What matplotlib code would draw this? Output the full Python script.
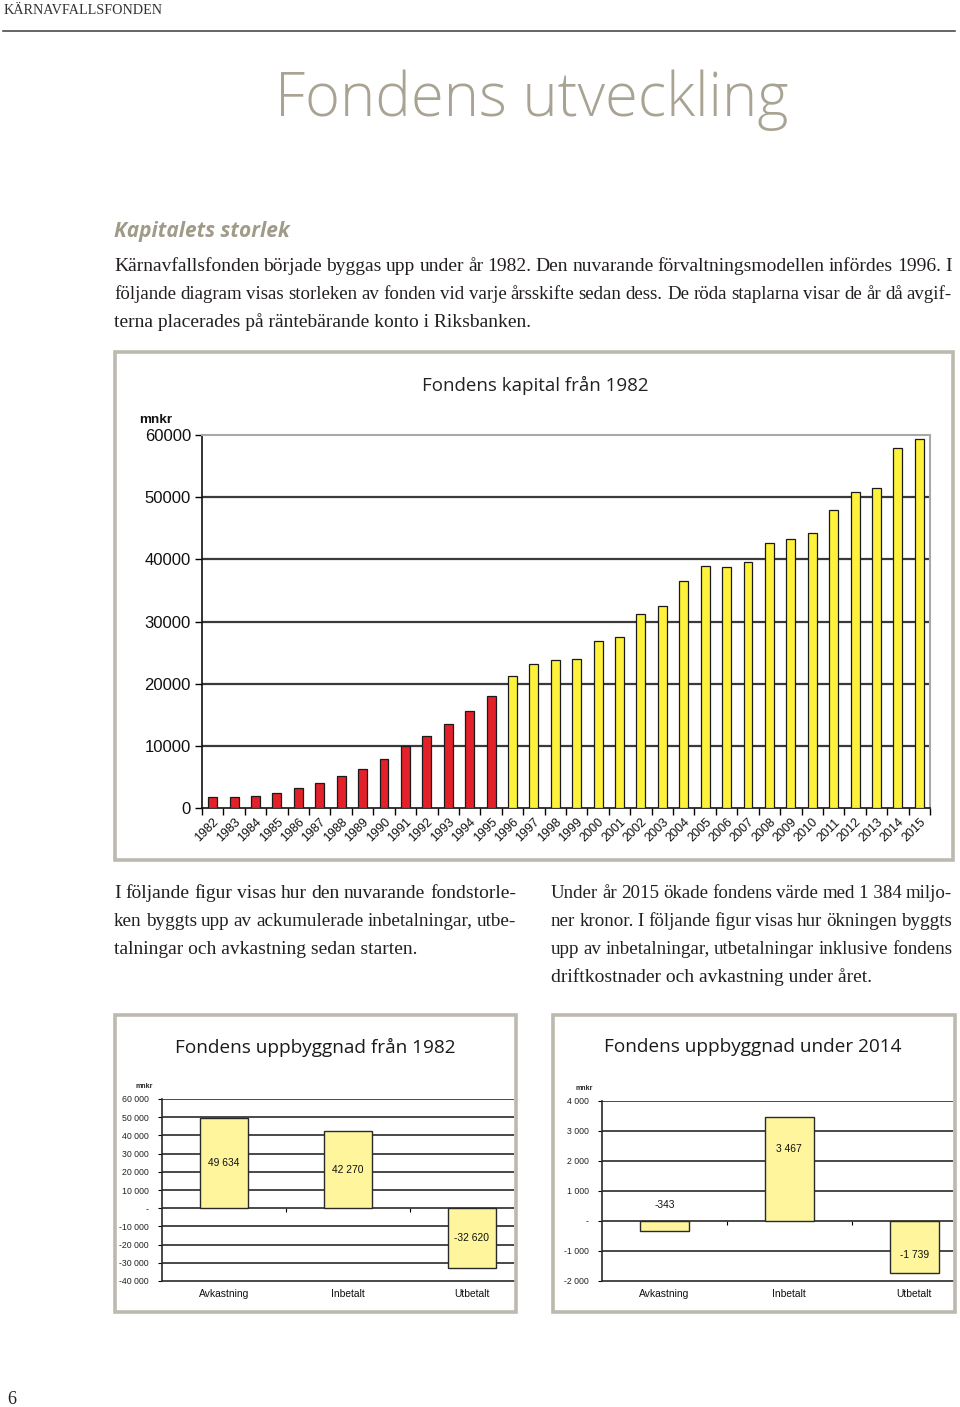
import matplotlib
matplotlib.use('Agg')
import matplotlib.pyplot as plt
from matplotlib.patches import Rectangle
from matplotlib.lines import Line2D

# --- data -------------------------------------------------------------
years = ['1982', '1983', '1984', '1985', '1986', '1987', '1988', '1989',
         '1990', '1991', '1992', '1993', '1994', '1995', '1996', '1997',
         '1998', '1999', '2000', '2001', '2002', '2003', '2004', '2005',
         '2006', '2007', '2008', '2009', '2010', '2011', '2012', '2013',
         '2014', '2015']
capital = [1800, 1800, 2000, 2400, 3250, 4100, 5150, 6300,
           7900, 9900, 11600, 13500, 15600, 18050, 21200, 23200,
           23800, 23950, 26800, 27500, 31250, 32550, 36550, 38950,
           38800, 39650, 42600, 43300, 44250, 48000, 50850, 51450,
           57900, 59400]
last_riksbank_year = 1995
capital_ticks = [0, 10000, 20000, 30000, 40000, 50000, 60000]

components = ['Avkastning', 'Inbetalt', 'Utbetalt']
since_1982 = [49634, 42270, -32620]
ticks_1982 = [60000, 50000, 40000, 30000, 20000, 10000, 0,
              -10000, -20000, -30000, -40000]
during_2014 = [-343, 3467, -1739]
ticks_2014 = [4000, 3000, 2000, 1000, 0, -1000, -2000]

W, H = 960, 1407
fig = plt.figure(figsize=(W / 100, H / 100), dpi=100)
fig.patch.set_facecolor('white')
renderer = fig.canvas.get_renderer()

SERIF = 'Liberation Serif'
SANS = 'Liberation Sans'
TEXT = '#231f20'
BODY = 14


def fx(x):
    return x / W


def fy(y):
    return 1 - y / H


def put(x, y, s, **kw):
    return fig.text(fx(x), fy(y), s, **kw)


def body_line(s, x0, y, x1=None, size=BODY):
    kw = dict(family=SERIF, fontsize=size, color=TEXT, va='baseline')
    if x1 is None:
        put(x0, y, s, **kw)
        return
    words = s.split(' ')
    items = [put(x0, y, w, **kw) for w in words]
    widths = [t.get_window_extent(renderer).width for t in items]
    min_gap = 0.2 * size * 100 / 72
    gap = (x1 - x0 - sum(widths)) / (len(words) - 1)
    if gap < min_gap:
        scale = (x1 - x0 - (len(words) - 1) * min_gap) / sum(widths)
        for t in items:
            t.set_fontsize(size * scale)
        widths = [t.get_window_extent(renderer).width for t in items]
        gap = (x1 - x0 - sum(widths)) / (len(words) - 1)
    x = x0
    for t, w in zip(items, widths):
        t.set_x(fx(x))
        x += w + gap


def frame(x0, y0, x1, y1):
    fig.patches.append(Rectangle((fx(x0), fy(y1)), fx(x1 - x0), (y1 - y0) / H,
                                 transform=fig.transFigure, fill=False,
                                 edgecolor='#bcb9ae', linewidth=2.6))


def add_ax(l, t, r, b):
    return fig.add_axes([fx(l), fy(b), fx(r - l), (b - t) / H])


# --- page header ------------------------------------------------------
put(4, 10, 'KÄRNAVFALLSFONDEN', family=SERIF, fontsize=10.2, color='#333333',
    va='center')
fig.add_artist(Line2D([fx(3), fx(955)], [fy(31), fy(31)], color='#3c3c3c',
                      linewidth=1.1, transform=fig.transFigure))
put(532, 100, 'Fondens utveckling', family='Open Sans', fontweight='light',
    fontsize=43, color='#a9a393', ha='center', va='center')
put(114, 231, 'Kapitalets storlek', family='Open Sans', fontweight='bold',
    style='italic', fontsize=15, color='#a09a89', va='center')

body_line('Kärnavfallsfonden började byggas upp under år 1982. Den nuvarande '
          'förvaltningsmodellen infördes 1996. I', 114, 271, 952)
body_line('följande diagram visas storleken av fonden vid varje årsskifte sedan '
          'dess. De röda staplarna visar de år då avgif-', 114, 299, 952)
body_line('terna placerades på räntebärande konto i Riksbanken.', 114, 327)

body_line('I följande figur visas hur den nuvarande fondstorle-', 114, 898, 516)
body_line('ken byggts upp av ackumulerade inbetalningar, utbe-', 114, 926, 516)
body_line('talningar och avkastning sedan starten.', 114, 954)

body_line('Under år 2015 ökade fondens värde med 1\u00a0384 miljo-', 551, 898, 952)
body_line('ner kronor. I följande figur visas hur ökningen byggts', 551, 926, 952)
body_line('upp av inbetalningar, utbetalningar inklusive fondens', 551, 954, 952)
body_line('driftkostnader och avkastning under året.', 551, 982)

put(7, 1400, '6', family=SERIF, fontsize=13, color=TEXT, va='center')

# --- main chart: fund capital since 1982 ------------------------------
frame(115, 352, 953, 860)
put(535, 385, 'Fondens kapital från 1982', family='Open Sans', fontsize=13.5,
    color='#222222', ha='center', va='center')
put(139, 420, 'mnkr', family=SANS, fontweight='bold', fontsize=9.7,
    color='#111111', va='center')

ax = add_ax(202, 435, 930, 808)
pos = list(range(len(years)))
colors = ['#e3212b' if int(y) <= last_riksbank_year else '#fff23a' for y in years]
ax.bar(pos, capital, width=0.42, color=colors, edgecolor='#1a1a1a',
       linewidth=0.9, zorder=3)
ax.set_xlim(-0.5, len(years) - 0.5)
ax.set_ylim(capital_ticks[0], capital_ticks[-1])
ax.hlines(capital_ticks[1:-1], -0.5, len(years) - 0.5, color='#3a3a3a',
          linewidth=1.6, zorder=1)
ax.set_yticks(capital_ticks)
ax.set_yticklabels([str(v) for v in capital_ticks], family=SANS, fontsize=12,
                   color='#111111')
ax.tick_params(axis='y', direction='out', length=5, width=1, pad=3)
ax.set_xticks(pos)
ax.set_xticklabels(years, family=SANS, fontsize=9, rotation=45, ha='right',
                   va='top', rotation_mode='anchor', color='#111111')
ax.set_xticks([p - 0.5 for p in pos] + [len(years) - 0.5], minor=True)
ax.tick_params(axis='x', which='major', length=0, pad=6)
ax.tick_params(axis='x', which='minor', direction='out', length=5, width=1)
for side in ('top', 'right'):
    ax.spines[side].set_color('#a8a8a8')
    ax.spines[side].set_linewidth(1.5)
for side in ('left', 'bottom'):
    ax.spines[side].set_color('#111111')
    ax.spines[side].set_linewidth(1.2)


# --- small component charts -------------------------------------------
def tick_fmt(v):
    return '-' if v == 0 else f'{v:,}'.replace(',', ' ')


def component_chart(box, title, title_x, mnkr_xy, rect, xmax, values, ticks,
                    label_y, ypad):
    frame(*box)
    put(title_x, box[1] + 32, title, family='Open Sans', fontsize=13.7,
        color='#1a1a1a', ha='center', va='center')
    put(mnkr_xy[0], mnkr_xy[1], 'mnkr', family=SANS, fontweight='bold',
        fontsize=5, color='#222222', va='center')
    a = add_ax(*rect)
    idx = list(range(len(components)))
    a.bar(idx, values, width=0.39, color='#fef59c', edgecolor='#2a2a2a',
          linewidth=1.0, zorder=3)
    a.set_xlim(-0.5, xmax)
    a.set_ylim(min(ticks), max(ticks))
    a.hlines([t for t in ticks if t != min(ticks)], -0.5, xmax,
             color='#3a3a3a', linewidth=1.3, zorder=1)
    a.set_yticks(ticks)
    a.set_yticklabels([tick_fmt(t) for t in ticks], family=SANS, fontsize=6.3,
                      color='#222222')
    a.tick_params(axis='y', direction='out', length=3, width=0.8, pad=ypad)
    a.set_xticks(idx)
    a.set_xticklabels(components, family=SANS, fontsize=7.4, color='#111111')
    a.tick_params(axis='x', length=0, pad=5.5)
    for side in ('top', 'right'):
        a.spines[side].set_visible(False)
    for side in ('left', 'bottom'):
        a.spines[side].set_color('#2a2a2a')
        a.spines[side].set_linewidth(1.2)
    zero = (0 - min(ticks)) / (max(ticks) - min(ticks))
    sec = a.secondary_xaxis(zero)
    sec.set_xticks([i + 0.5 for i in idx[:-1]])
    sec.set_xticklabels([])
    sec.tick_params(direction='out', length=3, width=0.8)
    sec.spines['bottom'].set_linewidth(0)
    for i, (v, ly) in enumerate(zip(values, label_y)):
        a.text(i, ly, tick_fmt(v), family=SANS, fontsize=7.4, color='#111111',
               ha='center', va='center', zorder=4)


component_chart((115, 1015, 516, 1312), 'Fondens uppbyggnad från 1982', 315,
                (135, 1086), (162, 1099, 514, 1281), 2.34, since_1982,
                ticks_1982, [v / 2 for v in since_1982], 6.5)
component_chart((553, 1015, 955, 1312), 'Fondens uppbyggnad under 2014', 753,
                (575, 1089), (602, 1101, 953, 1281), 2.31, during_2014,
                ticks_2014, [530, 2400, -1130], 6.7)

fig.savefig('out.png', dpi=100, facecolor='white')
